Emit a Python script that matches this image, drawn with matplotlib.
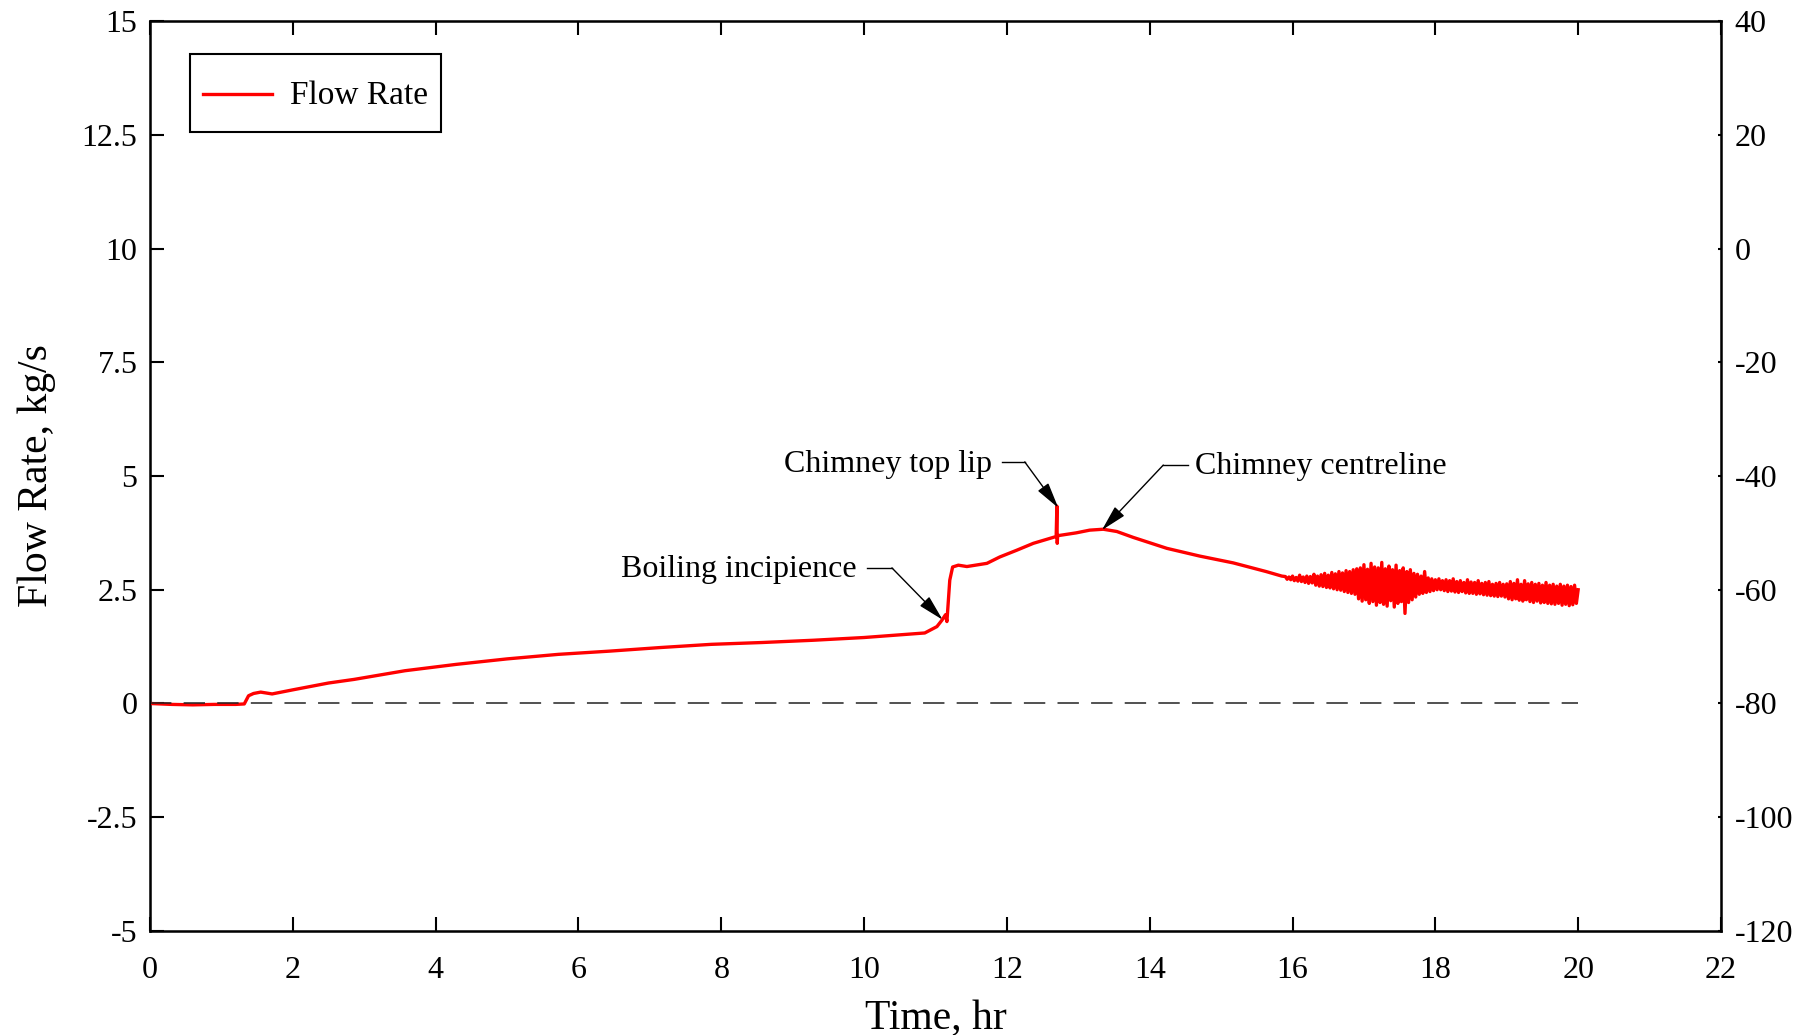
import numpy as np
import matplotlib
matplotlib.use("Agg")
import matplotlib.pyplot as plt

plt.rcParams['font.family'] = ['Liberation Serif', 'DejaVu Serif']
plt.rcParams['axes.unicode_minus'] = False

# flow rate, smooth part (hr, kg/s)
time_hr = [0.0, 0.3, 0.6, 0.9, 1.2, 1.32, 1.38, 1.45, 1.55, 1.71, 2.0, 2.5, 2.86,
           3.57, 4.29, 5.0, 5.72, 6.43, 7.15, 7.86, 8.57, 9.29, 10.0, 10.5, 10.85,
           11.02, 11.09, 11.14, 11.16, 11.18, 11.2, 11.24, 11.32, 11.44, 11.72, 11.9,
           12.14, 12.37, 12.69, 12.70, 12.705, 12.71, 12.72, 12.97, 13.16, 13.35,
           13.54, 13.77, 14.24, 14.7, 15.17, 15.63, 15.85]
flow = [0.0, -0.02, -0.03, -0.02, -0.02, -0.01, 0.17, 0.22, 0.25, 0.21, 0.30, 0.45, 0.53,
        0.72, 0.86, 0.98, 1.08, 1.15, 1.23, 1.30, 1.34, 1.39, 1.45, 1.51, 1.55,
        1.69, 1.83, 1.95, 1.80, 2.27, 2.71, 3.0, 3.04, 3.01, 3.08, 3.22,
        3.37, 3.52, 3.67, 4.34, 3.52, 3.68, 3.69, 3.75, 3.81, 3.83,
        3.78, 3.65, 3.41, 3.24, 3.09, 2.90, 2.80]

# oscillating part, 15.9 - 20 hr
noise_flow = [2.79, 2.73, 2.78, 2.72, 2.80, 2.70, 2.77, 2.69, 2.82, 2.68, 2.78, 2.66,
              2.80, 2.64, 2.79, 2.65, 2.84,
              2.60, 2.80, 2.58, 2.83, 2.57, 2.86, 2.55, 2.82, 2.54, 2.88, 2.52, 2.85,
              2.50, 2.90, 2.49, 2.87, 2.46, 2.92, 2.44, 2.90, 2.42, 2.94, 2.40, 2.96,
              2.30, 2.98, 2.25, 3.05, 2.28, 2.95, 2.20, 3.08, 2.24, 3.00, 2.16, 2.98,
              2.22, 3.10, 2.18, 2.96, 2.14, 3.02, 2.26, 2.94, 2.12, 3.04, 2.20, 2.92,
              2.24, 2.98, 1.98, 2.90, 2.22, 2.94, 2.28, 2.86,
              2.34, 2.84, 2.40, 2.80, 2.42, 2.90, 2.44, 2.76, 2.46, 2.74, 2.48, 2.72,
              2.50, 2.74, 2.50, 2.70,
              2.48, 2.72, 2.46, 2.70, 2.47, 2.74, 2.45, 2.68, 2.44, 2.70, 2.46, 2.66,
              2.43, 2.72, 2.42, 2.67, 2.42, 2.66, 2.40, 2.70, 2.41, 2.64, 2.39, 2.66,
              2.38, 2.68, 2.37, 2.62, 2.36, 2.64, 2.35, 2.66, 2.36, 2.62, 2.34, 2.63,
              2.30, 2.68, 2.28, 2.64, 2.30, 2.72, 2.27, 2.62, 2.25, 2.70, 2.28, 2.63,
              2.24, 2.66, 2.22, 2.62, 2.25, 2.64, 2.21, 2.60, 2.22, 2.66, 2.20, 2.60,
              2.19, 2.62, 2.18, 2.58, 2.20, 2.62, 2.16, 2.58, 2.18, 2.60, 2.15, 2.57,
              2.17, 2.60, 2.20, 2.50]
noise_time = np.linspace(15.9, 20.0, len(noise_flow))

t_all = np.concatenate([time_hr, noise_time])
f_all = np.concatenate([flow, noise_flow])

fig = plt.figure(figsize=(18.03, 10.35), dpi=100)
ax = fig.add_axes([0.0832, 0.1005, 0.8713, 0.8792])

ax.plot(t_all, f_all, color='#ff0000', lw=2.4, label='Flow Rate', zorder=3)
ax.plot([0, 20], [0, 0], color='#222222', lw=1.1, ls=(0, (14, 8)), zorder=4)

ax.set_xlim(0, 22)
ax.set_ylim(-5, 15)
ax.set_xticks(range(0, 23, 2))
ax.set_yticks([-5, -2.5, 0, 2.5, 5, 7.5, 10, 12.5, 15])
ax.set_yticklabels(['-5', '-2.5', '0', '2.5', '5', '7.5', '10', '12.5', '15'])
ax.tick_params(axis='x', direction='in', length=10, width=1.5, labelsize=23, pad=18, top=True)
ax.tick_params(axis='y', direction='in', length=10, width=1.5, labelsize=23, pad=9)
for s in ax.spines.values():
    s.set_linewidth(1.8)

ax2 = ax.twinx()
ax2.set_ylim(-120, 40)
ax2.set_yticks(range(-120, 41, 20))
ax2.tick_params(axis='y', direction='in', length=2, width=1.5, labelsize=23, pad=10)

ax.set_xlabel('Time, hr', fontsize=30)
ax.set_ylabel('Flow Rate, kg/s', fontsize=30)
ax.xaxis.set_label_coords(0.5, -0.075)
ax.yaxis.set_label_coords(-0.06, 0.5)

leg = ax.legend(loc='upper left', bbox_to_anchor=(0.0255, 0.9637), borderaxespad=0,
                fontsize=24, fancybox=False, framealpha=1, edgecolor='black',
                handlelength=2.05, handletextpad=0.55, borderpad=0.4, handleheight=2.0)
leg.get_frame().set_linewidth(1.5)
# bring the legend line down level with the text
hline = leg.get_lines()[0]
hline.set_ydata(np.asarray(hline.get_ydata()) - 5.8)

arrow = dict(arrowstyle='-|>,head_length=0.8,head_width=0.2', color='black',
             lw=1, mutation_scale=20, shrinkA=0, shrinkB=0)

# Boiling incipience
ax.plot([10.04, 10.39], [2.98, 2.98], color='black', lw=1)
ax.annotate('', xy=(11.10, 1.84), xytext=(10.39, 2.98), arrowprops=arrow)
ax.text(9.90, 2.95, 'Boiling incipience', fontsize=23, ha='right', va='center')

# Chimney top lip
ax.plot([11.93, 12.25], [5.31, 5.31], color='black', lw=1)
ax.annotate('', xy=(12.72, 4.30), xytext=(12.25, 5.31), arrowprops=arrow)
ax.text(11.79, 5.26, 'Chimney top lip', fontsize=23, ha='right', va='center')

# Chimney centreline
ax.plot([14.19, 14.54], [5.24, 5.24], color='black', lw=1)
ax.annotate('', xy=(13.33, 3.81), xytext=(14.19, 5.24), arrowprops=arrow)
ax.text(14.63, 5.21, 'Chimney centreline', fontsize=23, ha='left', va='center')

fig.savefig('out.png', dpi=100)
